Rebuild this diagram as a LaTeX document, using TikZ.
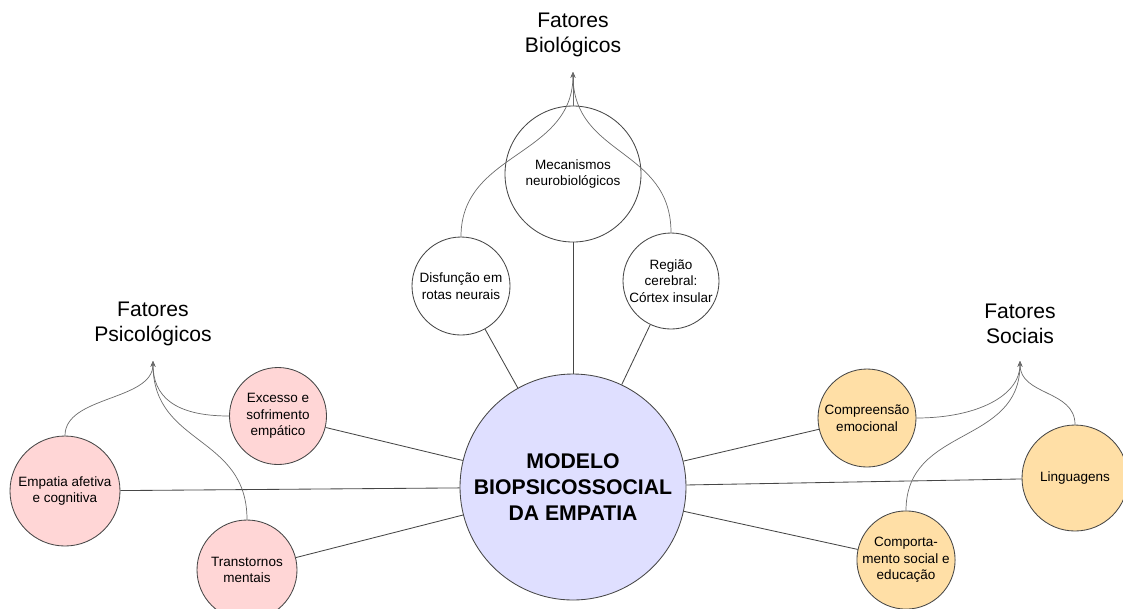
\documentclass[tikz,border=0pt]{standalone}
\usepackage{fontspec}
\setmainfont{Liberation Sans}
\usetikzlibrary{arrows.meta}
\definecolor{psipink}{RGB}{255,214,214}
\definecolor{socorange}{RGB}{255,223,166}
\definecolor{centrolilas}{RGB}{223,223,255}
\definecolor{linha}{RGB}{70,70,70}
\begin{document}
\begin{tikzpicture}[x=0.025cm, y=0.025cm,
	fator/.style={circle, draw=linha, line width=0.6pt, inner sep=0pt, align=center, font=\fontsize{9.6}{11.8}\selectfont},
	titulo/.style={align=center, font=\fontsize{15}{18}\selectfont},
	liga/.style={draw=linha, line width=0.6pt},
	curva/.style={draw=linha!80, line width=0.5pt, -{Stealth[length=4pt, width=3.5pt]}}]
	\useasboundingbox (0, 0) rectangle (1123, -608);

	% modelo central
	\node[fator, fill=centrolilas, minimum size=226*0.025cm, font=\bfseries\fontsize{15.1}{18.3}\selectfont] (modelo) at (573, -487) {MODELO\\BIOPSICOSSOCIAL\\DA EMPATIA};

	% fatores biologicos
	\node[fator, minimum size=136*0.025cm] (mec) at (573, -174) {Mecanismos\\neurobiológicos};
	\node[fator, minimum size=98*0.025cm] (disf) at (461, -286) {Disfunção em\\rotas neurais};
	\node[fator, minimum size=96*0.025cm] (regiao) at (671, -281) {Região\\cerebral:\\Córtex insular};

	% fatores psicologicos
	\node[fator, fill=psipink, minimum size=97*0.025cm] (excesso) at (278, -416) {Excesso e\\sofrimento\\empático};
	\node[fator, fill=psipink, minimum size=110*0.025cm] (empatia) at (65, -491) {Empatia afetiva\\e cognitiva};
	\node[fator, fill=psipink, minimum size=100*0.025cm] (transt) at (247, -570) {Transtornos\\mentais};

	% fatores sociais
	\node[fator, fill=socorange, minimum size=98*0.025cm] (compr) at (867, -418) {Compreensão\\emocional};
	\node[fator, fill=socorange, minimum size=106*0.025cm] (ling) at (1075, -478) {Linguagens};
	\node[fator, fill=socorange, minimum size=98*0.025cm] (comport) at (906, -560) {Comporta-\\mento social e\\educação};

	% titulos
	\node[titulo] (tbio) at (573, -35) {Fatores\\Biológicos};
	\node[titulo] (tpsi) at (153, -324) {Fatores\\Psicológicos};
	\node[titulo] (tsoc) at (1020, -324) {Fatores\\Sociais};

	\coordinate (bio) at (573, -72);
	\coordinate (psi) at (153, -361);
	\coordinate (soc) at (1020, -361);

	% ligacoes ao centro
	\foreach \n in {mec, disf, regiao, excesso, empatia, transt, compr, ling, comport}
		\draw[liga] (modelo) -- (\n);

	% curvas ate os titulos
	\draw[curva] (mec.north) -- (bio);
	\draw[curva] (disf.north) .. controls +(0, 85) and +(0, -85) .. (bio);
	\draw[curva] (regiao.north) .. controls +(0, 85) and +(0, -85) .. (bio);

	\draw[curva] (empatia.north) .. controls +(0, 40) and +(0, -40) .. (psi);
	\draw[curva] (excesso.west) .. controls +(-55, 0) and +(0, -35) .. (psi);
	\draw[curva] (transt.north) .. controls +(0, 85) and +(0, -85) .. (psi);

	\draw[curva] (compr.east) .. controls +(60, 0) and +(0, -35) .. (soc);
	\draw[curva] (ling.north) .. controls +(0, 35) and +(0, -35) .. (soc);
	\draw[curva] (comport.north) .. controls +(0, 85) and +(0, -85) .. (soc);
\end{tikzpicture}
\end{document}
